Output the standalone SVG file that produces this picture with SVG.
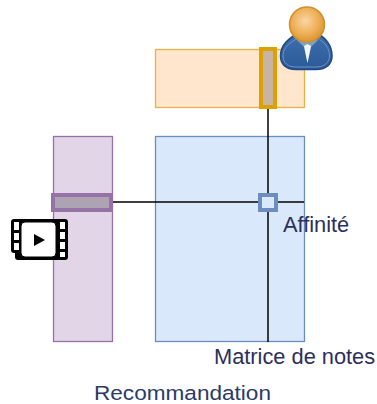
<svg xmlns="http://www.w3.org/2000/svg" width="377" height="404" viewBox="0 0 377 404">
<defs>
<radialGradient id="head" cx="0.45" cy="0.4" r="0.6"><stop offset="0" stop-color="#f8d6a4"/><stop offset="0.6" stop-color="#efb05a"/><stop offset="1" stop-color="#dc962f"/></radialGradient>
<linearGradient id="suit" x1="0" y1="0" x2="0" y2="1"><stop offset="0" stop-color="#3f70ac"/><stop offset="1" stop-color="#2a5a98"/></linearGradient>
</defs>
<style>
.t{font-family:"Liberation Sans",Arial,sans-serif;fill:#2b2f5e;font-size:21.800px}
.c{stroke:#000;stroke-width:1.500;fill:none}
.h{fill:#fff;stroke:none}
</style>
<g id="user-matrix"><rect x="155.500" y="49.500" width="149" height="58" fill="#ffe6cc" stroke="#e8b04a" stroke-width="1.300"/></g>
<g id="item-matrix"><rect x="53.500" y="136.500" width="59" height="205" fill="#e1d5e7" stroke="#9673a6" stroke-width="1.300"/></g>
<g id="rating-matrix"><rect x="155.500" y="136.500" width="149" height="205" fill="#dae8fc" stroke="#6c8ebf" stroke-width="1.300"/></g>
<g id="connectors">
<path class="c" d="M268 107V342"/>
<path class="c" d="M111 202H304"/>
</g>
<g id="user-row"><rect x="261" y="49" width="14" height="58" fill="#c8b3a4" stroke="#dca000" stroke-width="4"/></g>
<g id="item-row"><rect x="53" y="195" width="58" height="15" fill="#ada3b3" stroke="#9673a6" stroke-width="4"/></g>
<g id="affinity-cell"><rect x="260" y="195" width="16" height="15" fill="#dae8fc" stroke="#6c8ebf" stroke-width="4"/></g>
<g id="user-icon">
<path d="M280.500 56C280.500 44 290 38 298 33H317C325 38 332 44 332 56C332 65 325 69.500 316 69.500H296C287 69.500 280.500 65 280.500 56Z" fill="url(#suit)" stroke="#1f4a85" stroke-width="1.500"/>
<path d="M283 56C283 47 291 42 298 38H317C324 42 329.500 47 329.500 56C329.500 63 324 67 316 67H296C288 67 283 63 283 56Z" fill="none" stroke="#6d94c4" stroke-width="1"/>
<path d="M297 40L304 47L307.500 63L311 47L318 40L312 39H303Z" fill="#7aa0cc"/>
<path d="M304 46L307.500 63L311 46L307.500 44Z" fill="#f4f4f4"/>
<circle cx="307" cy="24.500" r="17.500" fill="url(#head)" stroke="#d0912c" stroke-width="1.500"/>
</g>
<g id="video-icon">
<path d="M14 219H65Q68 219 68 222V257Q68 260 65 260H18Q15 260 15 257V253H14Q11 253 11 250V222Q11 219 14 219Z" fill="#000"/>
<rect x="21" y="222" width="35" height="35" rx="4" fill="#fff" stroke="#000" stroke-width="1"/>
<path class="h" d="M14 222H19V230H14ZM14 233H19V240H14ZM14 243H19V250H14ZM60 222H65V229H60ZM60 232H65V239H60ZM60 242H65V249H60ZM60 252H65V257H60Z"/>
<path d="M34 234L45 240L34 246Z" fill="#000"/>
</g>
<text class="t" x="283" y="232">Affinité</text>
<text class="t" x="214" y="364">Matrice de notes</text>
<text x="94" y="399.500" textLength="177" lengthAdjust="spacingAndGlyphs" style="font-family:'Liberation Sans',sans-serif;font-size:20.500px;fill:#2b3a67">Recommandation</text>
</svg>
